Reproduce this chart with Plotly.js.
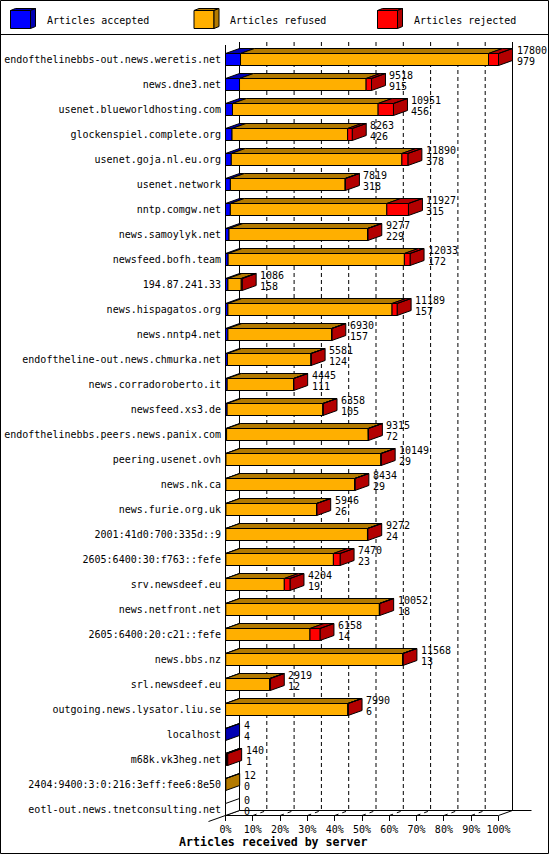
<!DOCTYPE html>
<html><head><meta charset="utf-8">
<script src="https://cdn.plot.ly/plotly-3.0.1.min.js"></script>
<style>html,body{margin:0;padding:0;background:#fff}#chart{width:550px;height:855px}</style>
</head><body><div id="chart"></div>
<script>
const hosts = [
  'endofthelinebbs-out.news.weretis.net','news.dne3.net','usenet.blueworldhosting.com',
  'glockenspiel.complete.org','usenet.goja.nl.eu.org','usenet.network','nntp.comgw.net',
  'news.samoylyk.net','newsfeed.bofh.team','194.87.241.33','news.hispagatos.org',
  'news.nntp4.net','endoftheline-out.news.chmurka.net','news.corradoroberto.it',
  'newsfeed.xs3.de','endofthelinebbs.peers.news.panix.com','peering.usenet.ovh',
  'news.nk.ca','news.furie.org.uk','2001:41d0:700:335d::9','2605:6400:30:f763::fefe',
  'srv.newsdeef.eu','news.netfront.net','2605:6400:20:c21::fefe','news.bbs.nz',
  'srl.newsdeef.eu','outgoing.news.lysator.liu.se','localhost','m68k.vk3heg.net',
  '2404:9400:3:0:216:3eff:fee6:8e50','eotl-out.news.tnetconsulting.net'
];
const accepted = [979,915,456,426,378,318,315,229,172,158,157,157,124,111,105,72,29,29,26,24,23,19,18,14,13,12,6,4,1,0,0];
const refused  = [16171,8253,9495,7537,11122,7481,10202,9033,11491,868,10702,6761,5449,4328,6243,9234,10100,8395,5912,9233,7012,3815,10014,5494,11543,2867,7974,0,69,12,0];
const rejected = [650,350,1000,300,390,20,1410,15,370,60,330,12,8,6,10,9,20,10,8,15,435,370,20,650,12,40,10,0,70,0,0];
const seriesNames = ['Articles accepted','Articles refused','Articles rejected'];
const pctTicks = [0,10,20,30,40,50,60,70,80,90,100];

const frontColors = ['#0000ff','#ffaf00','#ff0000'];
const darkColors  = ['#0000b3','#b37a00','#b30000'];
const FONT = 'DejaVu Sans Mono';

// layout geometry (pixels)
const W=550,H=855,L=225,R=19,T=42,B=40;
const PW=W-L-R, PH=H-T-B;
const series=[accepted,refused,rejected];
const totals = hosts.map((h,i)=>accepted[i]+refused[i]+rejected[i]);
const maxTotal = Math.max(...totals);
const pxPerUnit = 273/maxTotal;
const XMIN = -0.5/pxPerUnit, XMAX = XMIN + PW/pxPerUnit;
const ROW=25;
const YT = (T-59.5)/ROW, YB = YT + PH/ROW;
const DX = 14/pxPerUnit, DY = 5/ROW, HH = 6/ROW;

const xp = v => (v-XMIN)/(XMAX-XMIN);
const yp = v => (YB-v)/(YB-YT);
const pX = px => (px-L)/PW;
const pY = py => (H-B-py)/PH;

function mk(){return {x:[],y:[]};}
const fronts=[mk(),mk(),mk()], darks=[mk(),mk(),mk()], empties=mk();
function poly(t,pts){pts.concat([pts[0]]).forEach(p=>{t.x.push(p[0]);t.y.push(p[1]);});t.x.push(null);t.y.push(null);}

hosts.forEach((h,i)=>{
  let x0=0,last=-1;
  series.forEach((s,k)=>{
    const v=s[i];
    if(v>0){
      const x1=x0+v;
      poly(fronts[k],[[x0,i-HH],[x1,i-HH],[x1,i+HH],[x0,i+HH]]);
      poly(darks[k],[[x0,i-HH],[x1,i-HH],[x1+DX,i-HH-DY],[x0+DX,i-HH-DY]]);
      x0=x1;last=k;
    }
  });
  const side=[[x0,i-HH],[x0+DX,i-HH-DY],[x0+DX,i+HH-DY],[x0,i+HH]];
  poly(last>=0?darks[last]:empties,side);
});

const traces=[];
function addTrace(t,fill){
  traces.push({type:'scatter',mode:'lines',x:t.x,y:t.y,fill:'toself',fillcolor:fill,
    line:{color:'#000',width:1},hoverinfo:'skip',showlegend:false});
}
darks.forEach((t,k)=>addTrace(t,darkColors[k]));
fronts.forEach((t,k)=>addTrace(t,frontColors[k]));
addTrace(empties,'#ffffff');

const shapes=[];
const line=(x0,y0,x1,y1,dash,layer)=>shapes.push({type:'line',xref:'paper',yref:'paper',x0,y0,x1,y1,
  line:{color:'#000',width:1,dash:dash||'solid'},layer:layer||'below'});

// back-wall grid lines
pctTicks.forEach(p=>{
  const xv=p*maxTotal/100;
  const solid=(p===0||p===100);
  line(xp(xv+DX),pY(42),xp(xv+DX),pY(810.5),solid?'solid':'4px,3px');
  if(!solid) line(xp(xv),pY(815.5),xp(xv+DX),pY(810.5),'4px,4px');
});
// front-left wall edge
line(xp(0),pY(45),xp(0),pY(815.5));
// floor
line(xp(DX),pY(810.5),pX(531.5),pY(810.5));
line(xp(0),pY(815.5),xp(maxTotal),pY(815.5));
line(xp(maxTotal),pY(815.5),xp(maxTotal+DX),pY(810.5));
line(pX(208.5),pY(821.5),xp(DX),pY(810.5));
// frame and legend separator
shapes.push({type:'rect',xref:'paper',yref:'paper',x0:pX(0.5),x1:pX(548.5),y0:pY(0.5),y1:pY(853.5),
  line:{color:'#000',width:1},fillcolor:'rgba(0,0,0,0)',layer:'above'});
line(pX(0.5),pY(34.5),pX(548.5),pY(34.5),'solid','above');

// legend cubes
const annotations=[];
seriesNames.forEach((name,k)=>{
  const x0=10.5+183.5*k, x1=x0+20, y0=10.5, y1=28.5, d=5, e=2;
  const P=(pts)=>'M'+pts.map(p=>pX(p[0])+','+pY(p[1])).join('L')+'Z';
  shapes.push({type:'path',xref:'paper',yref:'paper',path:P([[x0,y0],[x1,y0],[x1,y1],[x0,y1]]),
    fillcolor:frontColors[k],line:{color:'#000',width:1},layer:'above'});
  shapes.push({type:'path',xref:'paper',yref:'paper',path:P([[x0,y0],[x1,y0],[x1+d,y0-e],[x0+d,y0-e]]),
    fillcolor:darkColors[k],line:{color:'#000',width:1},layer:'above'});
  shapes.push({type:'path',xref:'paper',yref:'paper',path:P([[x1,y0],[x1+d,y0-e],[x1+d,y1-e],[x1,y1]]),
    fillcolor:darkColors[k],line:{color:'#000',width:1},layer:'above'});
  annotations.push({xref:'paper',yref:'paper',x:pX(x0+34),y:pY(20),xanchor:'left',yanchor:'middle',
    text:name,showarrow:false,font:{family:FONT,size:10,color:'#000'}});
});

// value labels
hosts.forEach((h,i)=>{
  annotations.push({x:totals[i]+DX,y:i-0.37,xref:'x',yref:'y',xanchor:'left',yanchor:'middle',xshift:2,
    text:String(totals[i]),showarrow:false,font:{family:FONT,size:10,color:'#000'}});
  annotations.push({x:totals[i]+DX,y:i+0.07,xref:'x',yref:'y',xanchor:'left',yanchor:'middle',xshift:2,
    text:String(accepted[i]),showarrow:false,font:{family:FONT,size:10,color:'#000'}});
});
// axis title
annotations.push({xref:'paper',yref:'paper',x:pX(273),y:pY(841.5),xanchor:'center',yanchor:'middle',
  text:'<b>Articles received by server</b>',showarrow:false,font:{family:FONT,size:11.6,color:'#000'}});

const layout={
  width:W,height:H,margin:{l:L,r:R,t:T,b:B,pad:0},
  paper_bgcolor:'#fff',plot_bgcolor:'#fff',showlegend:false,
  xaxis:{range:[XMIN,XMAX],showgrid:false,zeroline:false,showline:false,
    tickvals:pctTicks.map(p=>p*maxTotal/100),ticktext:pctTicks.map(p=>p+'%'),
    ticks:'outside',ticklen:5,tickwidth:1,tickcolor:'#000',
    tickfont:{family:FONT,size:10,color:'#000'},fixedrange:true},
  yaxis:{range:[YB,YT],showgrid:false,zeroline:false,showline:false,
    tickvals:hosts.map((h,i)=>i),ticktext:hosts,ticks:'',ticklabelstandoff:3,
    tickfont:{family:FONT,size:10,color:'#000'},fixedrange:true},
  shapes,annotations
};
Plotly.newPlot('chart',traces,layout,{staticPlot:true,displayModeBar:false});
</script></body></html>
